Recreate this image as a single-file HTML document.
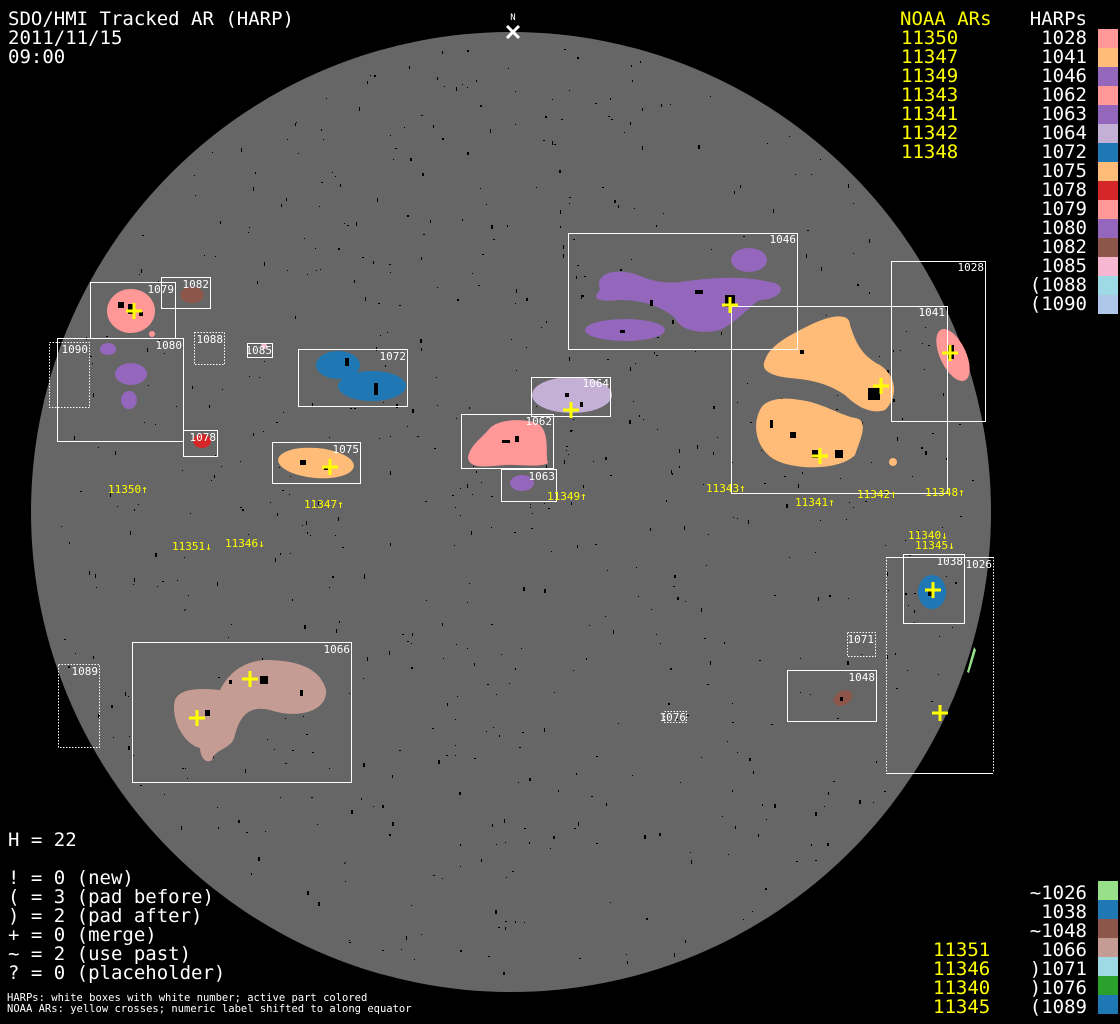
<!DOCTYPE html>
<html><head><meta charset="utf-8"><style>
html,body{margin:0;padding:0;background:#000;}
svg{display:block;}
text{font-family:"DejaVu Sans Mono","Liberation Mono",monospace;}
</style></head><body>
<svg id="s" width="1120" height="1024" viewBox="0 0 1120 1024" xmlns="http://www.w3.org/2000/svg">
<rect width="1120" height="1024" fill="#000"/>
<circle cx="511" cy="512" r="480" fill="#666"/>
<g id="specks" fill="#000"></g>
<text x="513" y="20" fill="#fff" font-size="9" text-anchor="middle">N</text>
<path d="M507 26 L519 38 M519 26 L507 38" stroke="#fff" stroke-width="3"/>

<g>
<path d="M600 290 C595 275 610 270 625 272 C640 273 650 285 680 282 C710 278 740 275 770 282 C790 285 780 300 760 300 C750 305 740 320 720 330 C700 335 680 330 675 318 C660 305 640 300 620 300 C600 302 590 300 600 290 Z" fill="#9467bd"/>
<ellipse cx="749" cy="260" rx="18" ry="12" fill="#9467bd"/>
<ellipse cx="625" cy="330" rx="40" ry="11" fill="#9467bd"/>
<path d="M765 360 C770 345 790 335 810 325 C830 315 850 312 850 325 C855 340 860 355 880 365 C895 375 900 395 885 410 C870 415 855 405 845 395 C830 385 815 380 790 378 C770 376 760 370 765 360 Z" fill="#ffbb78"/>
<path d="M760 410 C765 398 785 397 800 400 C820 402 840 415 855 418 C870 420 860 440 855 455 C840 470 800 470 780 462 C760 455 750 430 760 410 Z" fill="#ffbb78"/>
<circle cx="893" cy="462" r="4" fill="#ffbb78"/>
<ellipse cx="953" cy="355" rx="13" ry="28" transform="rotate(-25 953 355)" fill="#ff9896"/>
<ellipse cx="572" cy="395" rx="40" ry="18" fill="#c5b0d5"/>
<path d="M468 458 C470 445 480 440 490 428 C500 418 530 418 540 425 C550 435 545 455 548 463 C540 468 520 464 505 465 C490 466 470 470 468 458 Z" fill="#ff9896"/>
<ellipse cx="522" cy="483" rx="12" ry="8" fill="#9467bd"/>
<ellipse cx="131" cy="311" rx="24" ry="22" fill="#ff9896"/>
<circle cx="152" cy="334" r="3" fill="#ff9896"/>
<ellipse cx="192" cy="295" rx="12" ry="8" fill="#8c564b"/>
<ellipse cx="108" cy="349" rx="8" ry="6" fill="#9467bd"/>
<ellipse cx="131" cy="374" rx="16" ry="11" fill="#9467bd"/>
<ellipse cx="129" cy="400" rx="8" ry="9" fill="#9467bd"/>
<circle cx="264" cy="346" r="3" fill="#f7b6d2"/>
<ellipse cx="338" cy="365" rx="22" ry="14" fill="#1f77b4"/>
<ellipse cx="372" cy="386" rx="34" ry="15" fill="#1f77b4"/>
<ellipse cx="202" cy="441" rx="9" ry="7" fill="#d62728"/>
<ellipse cx="316" cy="463" rx="38" ry="15" transform="rotate(5 316 463)" fill="#ffbb78"/>
<path d="M175 700 C180 688 200 688 220 690 C228 675 240 662 265 660 C290 660 320 665 326 690 C328 710 300 720 270 710 C250 705 240 715 235 735 C232 750 215 748 212 760 C205 765 200 755 200 748 C185 745 170 720 175 700 Z" fill="#c49c94"/>
<ellipse cx="932" cy="592" rx="14" ry="17" fill="#1f77b4"/>
<ellipse cx="843" cy="698" rx="10" ry="7" transform="rotate(-30 843 698)" fill="#8c564b"/>
<path d="M974 647 L976 650 L969 673 L967 672 Z" fill="#98df8a"/>
</g>

<g fill="#000">
<rect x="725" y="295" width="10" height="12"/><rect x="695" y="290" width="8" height="4"/><rect x="650" y="300" width="3" height="6"/><rect x="620" y="330" width="5" height="3"/>
<rect x="868" y="388" width="12" height="12"/><rect x="835" y="450" width="8" height="8"/><rect x="812" y="450" width="6" height="8"/><rect x="790" y="432" width="6" height="6"/><rect x="770" y="420" width="3" height="8"/><rect x="800" y="350" width="4" height="4"/>
<rect x="948" y="345" width="6" height="14"/><rect x="128" y="304" width="6" height="10"/><rect x="118" y="302" width="6" height="6"/><rect x="139" y="312" width="4" height="4"/>
<rect x="345" y="358" width="4" height="8"/><rect x="374" y="383" width="4" height="12"/><rect x="300" y="460" width="6" height="5"/><rect x="324" y="467" width="4" height="3"/>
<rect x="565" y="393" width="4" height="4"/><rect x="580" y="402" width="3" height="5"/><rect x="502" y="440" width="8" height="3"/><rect x="515" y="436" width="4" height="6"/>
<rect x="260" y="676" width="8" height="8"/><rect x="205" y="710" width="5" height="6"/><rect x="229" y="680" width="3" height="4"/><rect x="300" y="690" width="3" height="6"/>
<rect x="928" y="590" width="4" height="6"/><rect x="840" y="697" width="3" height="4"/>
</g>

<g fill="none" stroke="#fff" stroke-width="1">
<rect x="568.5" y="233.5" width="229" height="116"/>
<rect x="891.5" y="261.5" width="94" height="160"/>
<rect x="731.5" y="306.5" width="216" height="187"/>
<rect x="531.5" y="377.5" width="79" height="39"/>
<rect x="461.5" y="414.5" width="92" height="54"/>
<rect x="501.5" y="469.5" width="55" height="32"/>
<rect x="90.5" y="282.5" width="85" height="56"/>
<rect x="161.5" y="277.5" width="49" height="31"/>
<rect x="57.5" y="338.5" width="126" height="103"/>
<rect x="247.5" y="343.5" width="25" height="14"/>
<rect x="298.5" y="349.5" width="109" height="57"/>
<rect x="183.5" y="430.5" width="34" height="26"/>
<rect x="272.5" y="442.5" width="88" height="41"/>
<rect x="132.5" y="642.5" width="219" height="140"/>
<rect x="787.5" y="670.5" width="89" height="51"/>
<rect x="903.5" y="554.5" width="61" height="69"/>
<line x1="886" y1="557.5" x2="993" y2="557.5"/>
<line x1="886" y1="773.5" x2="993" y2="773.5"/>
</g>
<g fill="none" stroke="#fff" stroke-width="1" stroke-dasharray="1.5 1.5">
<rect x="49.5" y="342.5" width="40" height="65"/>
<rect x="194.5" y="332.5" width="30" height="32"/>
<rect x="58.5" y="664.5" width="41" height="83"/>
<rect x="847.5" y="632.5" width="28" height="24"/>
<rect x="664.5" y="711.5" width="22" height="11"/>
<line x1="886.5" y1="557" x2="886.5" y2="773"/>
<line x1="993.5" y1="557" x2="993.5" y2="773"/>
</g>
<g fill="#fff" font-size="11" text-anchor="end">
<text x="796" y="243">1046</text>
<text x="984" y="271">1028</text>
<text x="945" y="316">1041</text>
<text x="609" y="387">1064</text>
<text x="552" y="425">1062</text>
<text x="555" y="480">1063</text>
<text x="174" y="293">1079</text>
<text x="209" y="288">1082</text>
<text x="182" y="349">1080</text>
<text x="88" y="353">1090</text>
<text x="223" y="343">1088</text>
<text x="272" y="354">1085</text>
<text x="406" y="360">1072</text>
<text x="216" y="441">1078</text>
<text x="359" y="453">1075</text>
<text x="350" y="653">1066</text>
<text x="98" y="675">1089</text>
<text x="875" y="681">1048</text>
<text x="874" y="643">1071</text>
<text x="686" y="721">1076</text>
<text x="963" y="565">1038</text>
<text x="992" y="568">1026</text>
</g>

<g stroke="#ff0" stroke-width="3">
<path d="M126 311h16M134 303v16"/>
<path d="M722 305h16M730 297v16"/>
<path d="M873 386h16M881 378v16"/>
<path d="M812 456h16M820 448v16"/>
<path d="M942 353h16M950 345v16"/>
<path d="M563 410h16M571 402v16"/>
<path d="M322 467h16M330 459v16"/>
<path d="M242 679h16M250 671v16"/>
<path d="M189 718h16M197 710v16"/>
<path d="M925 590h16M933 582v16"/>
<path d="M932 713h16M940 705v16"/>
</g>
<g fill="#ff0" font-size="11">
<text x="108" y="493">11350↑</text>
<text x="304" y="508">11347↑</text>
<text x="547" y="500">11349↑</text>
<text x="706" y="492">11343↑</text>
<text x="795" y="506">11341↑</text>
<text x="857" y="498">11342↑</text>
<text x="925" y="496">11348↑</text>
<text x="172" y="550">11351↓</text>
<text x="225" y="547">11346↓</text>
<text x="908" y="539">11340↓</text>
<text x="915" y="549">11345↓</text>
</g>

<g fill="#fff" font-size="19">
<text x="8" y="25">SDO/HMI Tracked AR (HARP)</text>
<text x="8" y="44">2011/11/15</text>
<text x="8" y="63">09:00</text>
<text x="1087" y="25" text-anchor="end">HARPs</text>
</g>
<g fill="#ff0" font-size="19">
<text x="900" y="25">NOAA ARs</text>
<text x="901" y="44">11350</text><text x="901" y="63">11347</text><text x="901" y="82">11349</text>
<text x="901" y="101">11343</text><text x="901" y="120">11341</text><text x="901" y="139">11342</text><text x="901" y="158">11348</text>
</g>
<g fill="#fff" font-size="19" text-anchor="end">
<text x="1087" y="44">1028</text><text x="1087" y="63">1041</text><text x="1087" y="82">1046</text>
<text x="1087" y="101">1062</text><text x="1087" y="120">1063</text><text x="1087" y="139">1064</text>
<text x="1087" y="158">1072</text><text x="1087" y="177">1075</text><text x="1087" y="196">1078</text>
<text x="1087" y="215">1079</text><text x="1087" y="234">1080</text><text x="1087" y="253">1082</text>
<text x="1087" y="272">1085</text><text x="1087" y="291">(1088</text><text x="1087" y="310">(1090</text>
</g>
<g>
<rect x="1098" y="29" width="20" height="19" fill="#ff9896"/>
<rect x="1098" y="48" width="20" height="19" fill="#ffbb78"/>
<rect x="1098" y="67" width="20" height="19" fill="#9467bd"/>
<rect x="1098" y="86" width="20" height="19" fill="#ff9896"/>
<rect x="1098" y="105" width="20" height="19" fill="#9467bd"/>
<rect x="1098" y="124" width="20" height="19" fill="#c5b0d5"/>
<rect x="1098" y="143" width="20" height="19" fill="#1f77b4"/>
<rect x="1098" y="162" width="20" height="19" fill="#ffbb78"/>
<rect x="1098" y="181" width="20" height="19" fill="#d62728"/>
<rect x="1098" y="200" width="20" height="19" fill="#ff9896"/>
<rect x="1098" y="219" width="20" height="19" fill="#9467bd"/>
<rect x="1098" y="238" width="20" height="19" fill="#8c564b"/>
<rect x="1098" y="257" width="20" height="19" fill="#f7b6d2"/>
<rect x="1098" y="276" width="20" height="19" fill="#9edae5"/>
<rect x="1098" y="295" width="20" height="19" fill="#aec7e8"/>
</g>

<g fill="#fff" font-size="19">
<text x="8" y="846">H = 22</text>
<text x="8" y="884">! = 0 (new)</text>
<text x="8" y="903">( = 3 (pad before)</text>
<text x="8" y="922">) = 2 (pad after)</text>
<text x="8" y="941">+ = 0 (merge)</text>
<text x="8" y="960">~ = 2 (use past)</text>
<text x="8" y="979">? = 0 (placeholder)</text>
</g>
<g fill="#fff" font-size="10.5">
<text x="7" y="1001">HARPs: white boxes with white number; active part colored</text>
<text x="7" y="1012">NOAA ARs: yellow crosses; numeric label shifted to along equator</text>
</g>

<g fill="#fff" font-size="19" text-anchor="end">
<text x="1087" y="899">~1026</text><text x="1087" y="918">1038</text><text x="1087" y="937">~1048</text>
<text x="1087" y="956">1066</text><text x="1087" y="975">)1071</text><text x="1087" y="994">)1076</text><text x="1087" y="1013">(1089</text>
</g>
<g fill="#ff0" font-size="19">
<text x="933" y="956">11351</text><text x="933" y="975">11346</text><text x="933" y="994">11340</text><text x="933" y="1013">11345</text>
</g>
<g>
<rect x="1098" y="881" width="20" height="19" fill="#98df8a"/>
<rect x="1098" y="900" width="20" height="19" fill="#1f77b4"/>
<rect x="1098" y="919" width="20" height="19" fill="#8c564b"/>
<rect x="1098" y="938" width="20" height="19" fill="#c49c94"/>
<rect x="1098" y="957" width="20" height="19" fill="#9edae5"/>
<rect x="1098" y="976" width="20" height="19" fill="#2ca02c"/>
<rect x="1098" y="995" width="20" height="19" fill="#1f77b4"/>
</g>
</svg>
<script>
(function(){
var g=document.getElementById('specks');var s=12345;
function r(){s=(s*1103515245+12345)%2147483648;return s/2147483648;}
var out='';
for(var i=0;i<700;i++){
var a=r()*Math.PI*2,d=Math.sqrt(r())*470;
var x=511+Math.cos(a)*d,y=512+Math.sin(a)*d;
var w=r()<0.7?1:2,h=r()<0.6?1:2+Math.floor(r()*3);
out+='<rect x="'+x.toFixed(0)+'" y="'+y.toFixed(0)+'" width="'+w+'" height="'+h+'"/>';
}
g.innerHTML=out;
})();
</script>
</body></html>
